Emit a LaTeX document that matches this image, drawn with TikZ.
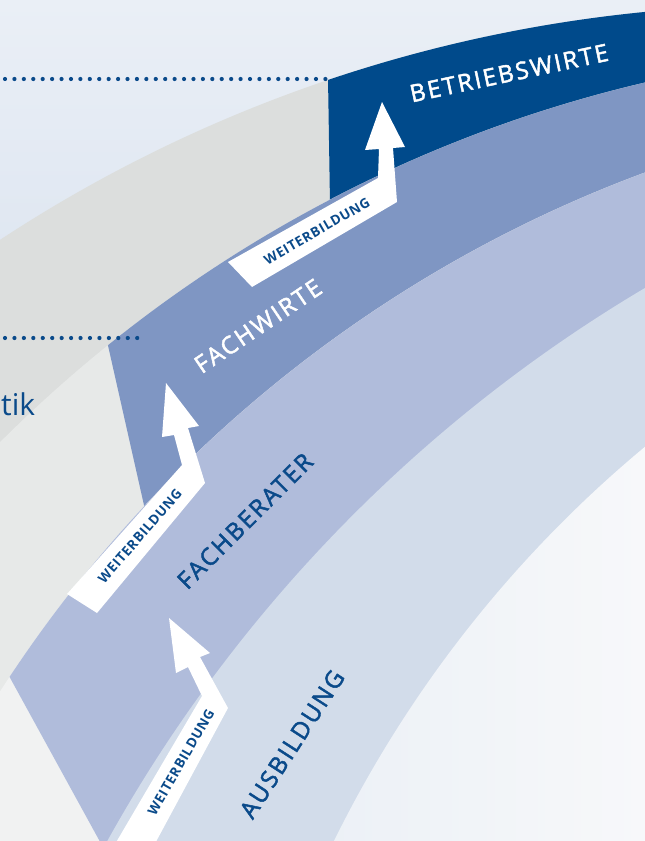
\documentclass[tikz,border=0pt]{standalone}
\usepackage{fontspec}
\usetikzlibrary{calc}
\setmainfont{Open Sans}
\newfontfamily\biglabelfont{Open Sans}[LetterSpace=9, FakeBold=2]
\newfontfamily\smalllabelfont{Open Sans}[LetterSpace=5]
\definecolor{bgtop}{HTML}{EAEFF6}
\definecolor{bgbot}{HTML}{DEE6F1}
\definecolor{grayA}{HTML}{DCDEDD}
\definecolor{grayB}{HTML}{E7E9E8}
\definecolor{grayC}{HTML}{F1F2F2}
\definecolor{bwblue}{HTML}{004A8B}
\definecolor{fwblue}{HTML}{7F96C3}
\definecolor{fbblue}{HTML}{B0BCDB}
\definecolor{abblue}{HTML}{D2DCEA}
\definecolor{innerL}{HTML}{EBF0F6}
\definecolor{innerR}{HTML}{F7F8FA}
\definecolor{tblue}{HTML}{0A4A8A}
\begin{document}
\begin{tikzpicture}[x=1pt,y=-1pt,
  biglabel/.style={font=\biglabelfont\fontsize{24}{24}\selectfont, inner sep=0pt},
  wblabel/.style={font=\smalllabelfont\bfseries\fontsize{13.5}{13.5}\selectfont, text=tblue, inner sep=0pt},
  arrowshape/.style={fill=white},
  dotmark/.style={fill=tblue}]
\useasboundingbox (0,0) rectangle (645,841);
\clip (0,0) rectangle (645,841);
% background
\shade[top color=bgtop, bottom color=bgbot] (0,0) rectangle (645,280);
% ring 1 (Betriebswirte)
\fill[grayA] (787,1440) circle[radius=1435pt];
\begin{scope}
  \clip (326.7,-5) -- (700,-5) -- (700,900) -- (341,900) -- cycle;
  \fill[bwblue] (787,1440) circle[radius=1435pt];
\end{scope}
% ring 2 (Fachwirte)
\fill[grayB] (954,1396) circle[radius=1349pt];
\begin{scope}
  \clip (29,-5) -- (700,-5) -- (700,900) -- (233,900) -- cycle;
  \fill[fwblue] (954,1396) circle[radius=1349pt];
\end{scope}
% ring 3 (Fachberater)
\fill[grayC] (1097,1395) circle[radius=1303pt];
\begin{scope}
  \clip (-362,0) -- (700,0) -- (700,900) -- (132,900) -- cycle;
  \fill[fbblue] (1097,1395) circle[radius=1303pt];
\end{scope}
% ring 4 (Ausbildung)
\fill[abblue] (1393,1553) circle[radius=1469.4pt];
% inner region
\begin{scope}
  \clip (1412,1371) circle[radius=1201pt];
  \shade[left color=innerL, right color=innerR] (300,400) rectangle (645,841);
\end{scope}
% dotted lines
\coordinate (dotAstart) at (5,79);
\coordinate (dotAend) at (325.4,79);
\coordinate (dotBstart) at (5,338);
\coordinate (dotBend) at (137.2,338);
\foreach \i in {0,...,34}
  \fill[dotmark] ($(dotAstart)!\i/34!(dotAend)$) circle[radius=2.1pt];
\foreach \i in {0,...,14}
  \fill[dotmark] ($(dotBstart)!\i/14!(dotBend)$) circle[radius=2.1pt];
% arrows
\fill[arrowshape] (228,262) -- (378,178) -- (379,149) -- (365,150) -- (382,102)
  -- (405,147) -- (393,148) -- (397,202) -- (252,287) -- cycle;
\fill[arrowshape] (67,594) -- (182,465) -- (174,435) -- (162,437) -- (166,383)
  -- (199,426) -- (188,428) -- (205,483) -- (97,613) -- cycle;
\fill[arrowshape] (111,851) -- (202,696) -- (188,667) -- (176,673) -- (169,618)
  -- (210,653) -- (200,657) -- (228,708) -- (151,851) -- cycle;
% labels
\node[biglabel, text=white, rotate=12] (betriebswirte) at (509,73) {BETRIEBSWIRTE};
\node[biglabel, text=white, rotate=34] (fachwirte) at (258,326) {FACHWIRTE};
\node[biglabel, text=tblue, rotate=45] (fachberater) at (245,521) {FACHBERATER};
\node[biglabel, text=tblue, rotate=57] (ausbildung) at (292,744) {AUSBILDUNG};
\node[wblabel, rotate=30] (wb1) at (317,231) {WEITERBILDUNG};
\node[wblabel, rotate=49] (wb2) at (140,536) {WEITERBILDUNG};
\node[wblabel, rotate=60] (wb3) at (181,762) {WEITERBILDUNG};
\node[anchor=base west, inner sep=0pt, text=tblue, font=\fontsize{30}{30}\selectfont] (tik) at (1,415) {tik};
\end{tikzpicture}
\end{document}
